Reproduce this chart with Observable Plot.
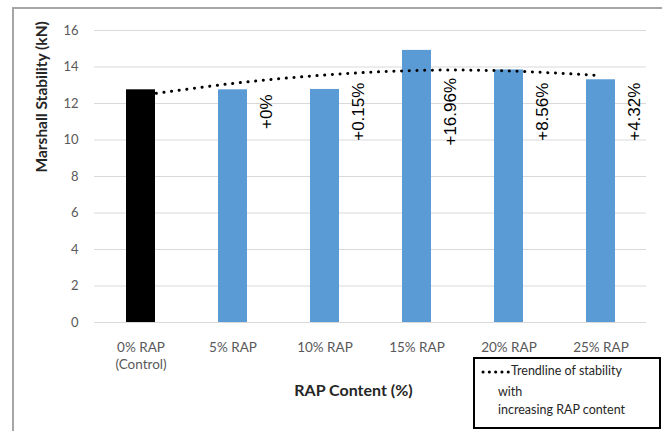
<!DOCTYPE html>
<html>
<head>
<meta charset="utf-8">
<script src="https://cdn.jsdelivr.net/npm/d3@7"></script>
<script src="https://cdn.jsdelivr.net/npm/@observablehq/plot@0.6"></script>
<style>
  html, body { margin: 0; padding: 0; background: #fff; }
  #wrap { position: relative; width: 662px; height: 431px; overflow: hidden; background: #fff; }
  #frame { position: absolute; left: 12px; top: 7px; width: 700px; height: 500px;
           border-left: 2px solid #a6a6a6; border-top: 2px solid #a6a6a6; box-sizing: border-box; }
  #chart { position: absolute; left: 0; top: 0; }
  #legend { position: absolute; left: 473px; top: 357px; width: 188px; height: 72px;
            border: 2px solid #000; box-sizing: border-box; background: #fff;
            font-family: Lato, "Open Sans", sans-serif; font-size: 12.5px; color: #262626; }
  #legend .l1 { position: absolute; left: 6px; top: 4px; white-space: nowrap; }
  #legend .l2 { position: absolute; left: 23px; top: 25px; white-space: nowrap; }
  #legend .l3 { position: absolute; left: 23px; top: 43px; white-space: nowrap; }
  #legend svg { vertical-align: middle; }
</style>
</head>
<body>
<div id="wrap">
  <div id="frame"></div>
  <div id="chart"></div>
  <div id="legend">
    <div class="l1"><svg width="30" height="6"><line x1="2" y1="3" x2="29" y2="3" stroke="#000" stroke-width="3" stroke-linecap="round" stroke-dasharray="0.1 6.2"/></svg>Trendline of stability</div>
    <div class="l2">with</div>
    <div class="l3">increasing RAP content</div>
  </div>
</div>
<script>
// ---- data ----
const categories = ["0% RAP", "5% RAP", "10% RAP", "15% RAP", "20% RAP", "25% RAP"];
const categoryLabels = ["0% RAP\n(Control)", "5% RAP", "10% RAP", "15% RAP", "20% RAP", "25% RAP"];
const stability = [12.75, 12.75, 12.77, 14.91, 13.84, 13.30];
const trendline = [12.44, 13.10, 13.56, 13.81, 13.78, 13.53];
const changeLabels = ["", "+0%", "+0.15%", "+16.96%", "+8.56%", "+4.32%"];
const yTicks = [0, 2, 4, 6, 8, 10, 12, 14, 16];
const yTitle = "Marshall Stability (kN)";
const xTitle = "RAP Content (%)";

const rows = categories.map((c, i) => ({
  cat: c, label: categoryLabels[i], value: stability[i], trend: trendline[i],
  change: changeLabels[i], control: i === 0
}));

const chart = Plot.plot({
  width: 662,
  height: 431,
  marginLeft: 94,
  marginRight: 16,
  marginTop: 30,
  marginBottom: 109,
  style: { fontFamily: "Lato, 'Open Sans', sans-serif", fontSize: "13px", color: "#595959", background: "transparent" },
  x: { domain: categories, paddingInner: 0.685, paddingOuter: 0.3425, axis: null },
  y: { domain: [0, 16], ticks: yTicks, tickSize: 0, tickPadding: 16, label: null },
  marks: [
    Plot.ruleY(yTicks, { stroke: "#d9d9d9", strokeWidth: 1 }),
    Plot.barY(rows, { x: "cat", y: "value", fill: d => d.control ? "#000000" : "#5b9bd5" }),
    Plot.line(rows, { x: "cat", y: "trend", curve: "natural", stroke: "#000", strokeWidth: 3,
                      strokeDasharray: "0.1 7.6", strokeLinecap: "round" }),
    Plot.text(rows.filter(d => d.change), { x: "cat", y: 11.55, text: "change", rotate: -90,
                      dx: 34, textAnchor: "middle", fontSize: 17, fill: "#000",
                      fontFamily: "'Liberation Sans', Arial, sans-serif" }),
    Plot.text(rows, { x: "cat", text: "label", frameAnchor: "bottom", lineAnchor: "top",
                      dy: 18, fontSize: 13.5, fill: "#595959", lineHeight: 1.22 }),
    Plot.text([xTitle], { frameAnchor: "bottom", lineAnchor: "middle", dx: -17, dy: 68,
                      fontSize: 16, fontWeight: "bold", fill: "#262626" }),
    Plot.text([yTitle], { frameAnchor: "left", rotate: -90, dx: -52, dy: -4,
                      fontSize: 15.5, fontWeight: "bold", fill: "#262626" })
  ]
});
document.getElementById("chart").appendChild(chart);
</script>
</body>
</html>
